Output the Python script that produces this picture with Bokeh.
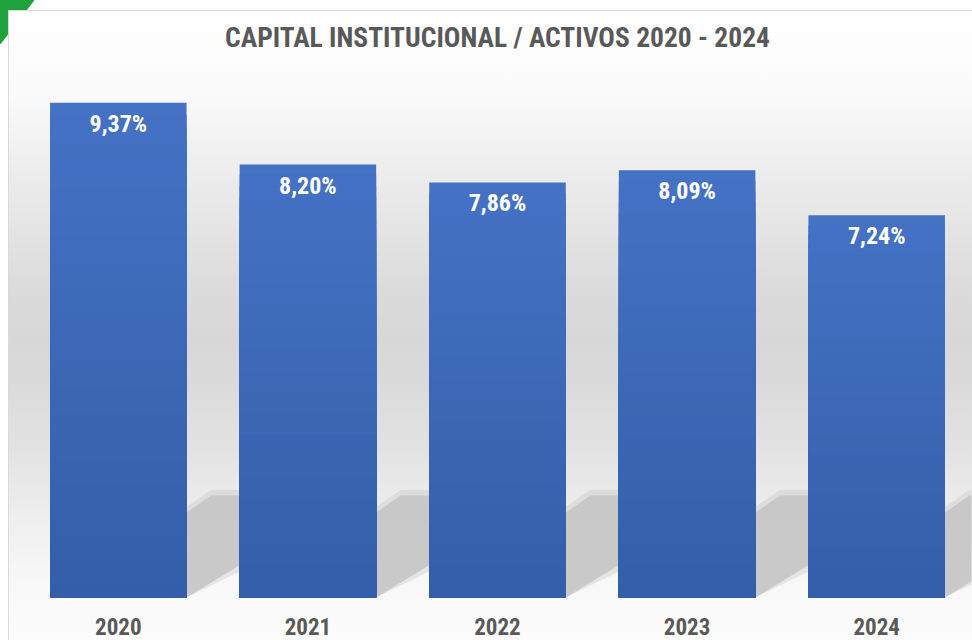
from bokeh.plotting import figure
from bokeh.models import Range1d, FixedTicker, Title
from bokeh.core.properties import value
from bokeh.embed import file_html
from bokeh.resources import INLINE

# ---- data ----
years = ["2020", "2021", "2022", "2023", "2024"]
ratios = [9.37, 8.20, 7.86, 8.09, 7.24]
labels = ["9,37%", "8,20%", "7,86%", "8,09%", "7,24%"]
title_text = "CAPITAL INSTITUCIONAL / ACTIVOS 2020 - 2024"

FONT = "Roboto Condensed"
GREY_TXT = "#595959"
BAR_TOP = (68, 114, 196)
BAR_BOT = (52, 94, 169)
BAR_W = 0.72

xs = list(range(len(years)))

p = figure(
    width=972, height=640,
    x_range=Range1d(-0.5, 4.5), y_range=Range1d(0, 10.208),
    output_backend="svg", toolbar_location=None,
    min_border_left=23, min_border_right=1,
    min_border_top=58, min_border_bottom=43,
)
panel_grad = ("linear-gradient(to bottom, #ffffff 0%, #fafafa 14%, #f0f0f0 22%, #e6e6e6 33%, "
              "#dcdcdc 43%, #d7d7d7 52%, #dadada 59%, #e3e3e3 70%, #eeeeee 80%, #f8f8f8 91%, #fcfcfc 100%)")
p.styles = {
    "background": (panel_grad + " 9px 11px / 963px 629px no-repeat, "
                   "linear-gradient(#d9d9d9, #d9d9d9) 8px 10px / 964px 630px no-repeat, "
                   "linear-gradient(to bottom right, #1fa23d 50%, rgba(255,255,255,0) 52%) 0 0 / 34px 44px no-repeat, "
                   "#ffffff"),
}
p.background_fill_alpha = 0
p.border_fill_alpha = 0
p.outline_line_color = None
p.grid.visible = False
p.yaxis.visible = False

# title
p.title = Title(text=title_text, align="center", text_font=FONT, text_font_size="27.5px",
                text_color=GREY_TXT, text_font_style="bold")

# x axis
p.xaxis.ticker = FixedTicker(ticks=xs)
p.xaxis.major_label_overrides = {i: y for i, y in zip(xs, years)}
p.xaxis.axis_line_color = None
p.xaxis.major_tick_line_color = None
p.xaxis.minor_tick_line_color = None
p.xaxis.major_label_text_font = FONT
p.xaxis.major_label_text_font_size = "23px"
p.xaxis.major_label_text_font_style = "bold"
p.xaxis.major_label_text_color = GREY_TXT
p.xaxis.major_label_standoff = 14

# floor shadows behind each bar (derived from bar geometry), soft edge + core
sx_soft, sy_soft, sx, sy = [], [], [], []
for i in xs:
    r = i + BAR_W / 2
    sx_soft.append([r, r, r + 0.13, r + 0.40, r + 0.40])
    sy_soft.append([0, 1.72, 2.04, 2.04, 0.70])
    sx.append([r, r, r + 0.13, r + 0.37, r + 0.37])
    sy.append([0, 1.61, 1.93, 1.93, 0.81])
p.patches(sx_soft, sy_soft, fill_color="#c4c4c4", fill_alpha=0.35, line_color=None)
p.patches(sx, sy, fill_color="#c4c4c4", fill_alpha=0.85, line_color=None)

# bars with vertical gradient (stacked overlapping vbars, painter's order)
N = 40
for k in range(N):
    t = k / (N - 1)
    c = tuple(int(round(BAR_TOP[j] + (BAR_BOT[j] - BAR_TOP[j]) * t)) for j in range(3))
    col = "#%02x%02x%02x" % c
    frac = (N - k) / N
    p.vbar(x=xs, top=[v * frac for v in ratios], bottom=0, width=BAR_W,
           fill_color=col, line_color=None)

# value labels
p.text(x=xs, y=ratios, text=labels, text_align="center", text_baseline="middle",
       y_offset=21, text_color="white", text_font=value(FONT),
       text_font_size="24px", text_font_style="bold")

open("out.html", "w").write(file_html(p, INLINE))
